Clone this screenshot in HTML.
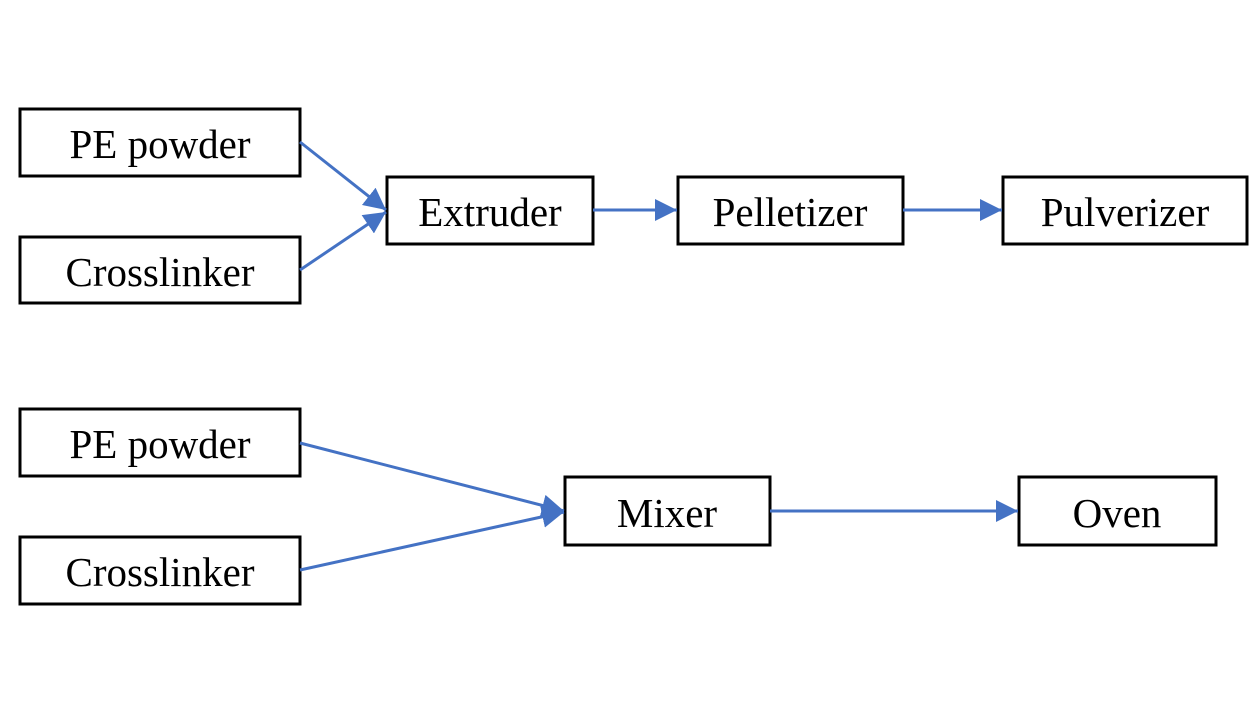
<!DOCTYPE html>
<html><head><meta charset="utf-8"><style>
html,body{margin:0;padding:0;background:#fff;}
svg{display:block;}
text{font-family:"Liberation Serif",serif;font-size:41px;fill:#000;text-anchor:middle;}
</style></head><body>
<svg width="1259" height="709" viewBox="0 0 1259 709" xmlns="http://www.w3.org/2000/svg">
<defs><marker id="a" markerWidth="8" markerHeight="8" refX="7" refY="4" orient="auto" markerUnits="userSpaceOnUse" viewBox="0 0 8 8"><path d="M0,0 L8,4 L0,8 z" fill="#4472C4"/></marker>
<marker id="b" viewBox="0 0 10 10" refX="10" refY="5" markerWidth="22" markerHeight="22" orient="auto" markerUnits="userSpaceOnUse"><path d="M0,0 L10,5 L0,10 z" fill="#4472C4"/></marker></defs>
<g fill="none" stroke="#000" stroke-width="3">
<rect x="20" y="109" width="280" height="67"/>
<rect x="20" y="237" width="280" height="66"/>
<rect x="387" y="177" width="206" height="67"/>
<rect x="678" y="177" width="225" height="67"/>
<rect x="1003" y="177" width="244" height="67"/>
<rect x="20" y="409" width="280" height="67"/>
<rect x="20" y="537" width="280" height="67"/>
<rect x="565" y="477" width="205" height="68"/>
<rect x="1019" y="477" width="197" height="68"/>
</g>
<g stroke="#4472C4" stroke-width="3" fill="none">
<line x1="300" y1="142" x2="386" y2="210" marker-end="url(#b)"/>
<line x1="300" y1="270" x2="386" y2="212" marker-end="url(#b)"/>
<line x1="593" y1="210" x2="677" y2="210" marker-end="url(#b)"/>
<line x1="903" y1="210" x2="1002" y2="210" marker-end="url(#b)"/>
<line x1="300" y1="443" x2="564" y2="511" marker-end="url(#b)"/>
<line x1="300" y1="570" x2="564" y2="512" marker-end="url(#b)"/>
<line x1="770" y1="511" x2="1018" y2="511" marker-end="url(#b)"/>
</g>
<text x="160" y="158">PE powder</text>
<text x="160" y="286">Crosslinker</text>
<text x="490" y="226">Extruder</text>
<text x="790" y="226">Pelletizer</text>
<text x="1125" y="226">Pulverizer</text>
<text x="160" y="458">PE powder</text>
<text x="160" y="586">Crosslinker</text>
<text x="667" y="527">Mixer</text>
<text x="1117" y="527">Oven</text>
</svg>
</body></html>
